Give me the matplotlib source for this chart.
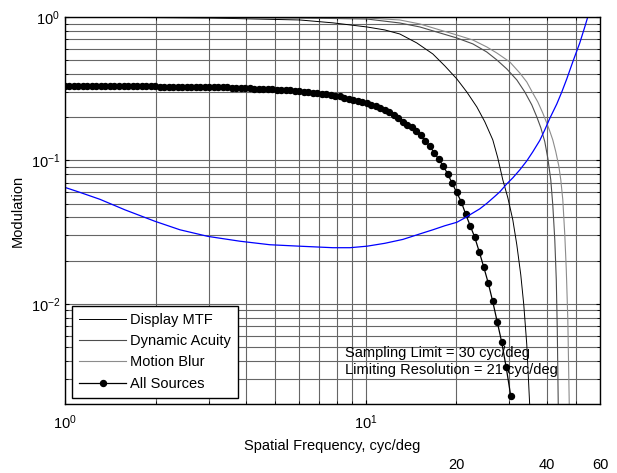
import numpy as np
import matplotlib
matplotlib.use('Agg')
import matplotlib.pyplot as plt
import matplotlib.transforms as mtransforms
from matplotlib.ticker import LogLocator, NullFormatter, LogFormatterMathtext

plt.rcParams['font.family'] = ['Liberation Sans', 'DejaVu Sans']
plt.rcParams['mathtext.fontset'] = 'custom'
plt.rcParams['mathtext.rm'] = 'Liberation Sans'
plt.rcParams['mathtext.it'] = 'Liberation Sans'

# --- data ---
# display MTF
mtf_x = [1.0, 3.03, 6.04, 7.77, 10.08, 11.56, 12.97, 14.77, 16.70, 18.30, 20.06, 21.65,
         23.38, 24.85, 26.42, 27.45, 28.52, 29.64, 30.79, 31.75, 32.73, 33.49, 34.27, 35.07]
mtf_y = [1.0, 0.984, 0.953, 0.91, 0.852, 0.812, 0.761, 0.659, 0.552, 0.456, 0.370, 0.300,
         0.236, 0.186, 0.139, 0.104, 0.0732, 0.0549, 0.0385, 0.0258, 0.0159, 0.00984, 0.00518, 0.0019]

# dynamic acuity
acuity_x = [1.0, 6.04, 10.08, 12.97, 15.12, 17.62, 20.06, 22.68, 25.23, 27.24, 29.41, 31.75,
            33.75, 35.60, 37.00, 38.15, 39.33, 40.24, 41.17, 41.81, 42.46, 42.95, 43.28, 43.61]
acuity_y = [1.0, 0.984, 0.968, 0.908, 0.852, 0.774, 0.714, 0.649, 0.570, 0.502, 0.434, 0.364,
            0.300, 0.244, 0.201, 0.169, 0.135, 0.104, 0.0732, 0.0490, 0.0279, 0.0147, 0.00659, 0.0019]

# motion blur
blur_x = [1.0, 10.08, 12.97, 15.12, 17.62, 20.06, 22.68, 25.23, 27.24, 30.09, 32.48, 34.27,
          35.87, 37.27, 38.73, 39.93, 40.86, 41.81, 42.78, 43.78, 44.45, 45.14, 45.84, 46.37,
          46.91, 47.45]
blur_y = [1.0, 0.984, 0.953, 0.894, 0.812, 0.749, 0.691, 0.618, 0.561, 0.486, 0.407, 0.352,
          0.295, 0.256, 0.214, 0.182, 0.160, 0.139, 0.115, 0.0915, 0.0732, 0.0533, 0.0302, 0.0172,
          0.00776, 0.0019]

# threshold curve (blue)
thresh_x = [1.0, 1.122, 1.307, 1.582, 1.991, 2.411, 2.987, 3.815, 4.799, 6.04, 7.77, 8.85,
            10.08, 11.56, 13.27, 15.12, 16.70, 18.30, 20.06, 21.33, 22.15, 23.91, 25.23, 26.83,
            27.87, 29.41, 30.79, 32.48, 34.27, 35.87, 37.86, 39.33, 40.86, 43.12, 44.80, 46.54,
            48.72, 51.40, 53.41, 54.65]
thresh_y = [0.0648, 0.0598, 0.0535, 0.0452, 0.0376, 0.0328, 0.0295, 0.0273, 0.0258, 0.0252,
            0.0246, 0.0246, 0.0252, 0.0264, 0.0281, 0.0307, 0.0328, 0.0350, 0.0370, 0.0397,
            0.0417, 0.0459, 0.0501, 0.0561, 0.0603, 0.0686, 0.0755, 0.0858, 0.0992, 0.1146,
            0.1378, 0.1632, 0.1962, 0.2475, 0.300, 0.370, 0.486, 0.659, 0.852, 1.0]

# all sources, one value per plotted dot (dots evenly spaced on the log axis)
all_x = np.geomspace(1.0, 30.3, 100)
all_y = ([0.332] * 21 + [0.326] * 14 +
         [0.325, 0.323, 0.322, 0.321, 0.320, 0.318, 0.318, 0.317, 0.316, 0.315,
          0.314, 0.313, 0.312, 0.311, 0.310, 0.308, 0.306, 0.304, 0.301, 0.299,
          0.297, 0.295, 0.292, 0.289, 0.286, 0.283, 0.279, 0.274, 0.269, 0.265,
          0.260, 0.255, 0.251, 0.245, 0.239, 0.233, 0.226, 0.218, 0.208, 0.197,
          0.186, 0.177, 0.170, 0.161, 0.151, 0.137, 0.126, 0.113, 0.102, 0.0916,
          0.0805, 0.0693, 0.0597, 0.0516, 0.0422, 0.0350, 0.0292, 0.0231, 0.0181, 0.0140,
          0.0104, 0.0075, 0.0054, 0.0036, 0.00229])

extra_ticks = [20, 40, 60]

fig = plt.figure(figsize=(6.17, 4.73), dpi=100)
ax = fig.add_axes([0.1053, 0.1459, 0.8671, 0.8182])

ax.plot(mtf_x, mtf_y, color='k', lw=0.7, label='Display MTF')
ax.plot(acuity_x, acuity_y, color='0.3', lw=0.8, label='Dynamic Acuity')
ax.plot(blur_x, blur_y, color='0.55', lw=0.8, label='Motion Blur')
ax.plot(all_x, all_y, color='k', lw=0.9, marker='o', ms=4.3, label='All Sources')
ax.plot(thresh_x, thresh_y, color='#0000ff', lw=0.9)

ax.set_xscale('log')
ax.set_yscale('log')
ax.set_xlim(1, 60)
ax.set_ylim(0.002, 1)

ax.xaxis.set_major_locator(LogLocator(base=10))
ax.yaxis.set_major_locator(LogLocator(base=10))
ax.xaxis.set_minor_locator(LogLocator(base=10, subs=np.arange(2, 10)))
ax.yaxis.set_minor_locator(LogLocator(base=10, subs=np.arange(2, 10)))
ax.xaxis.set_minor_formatter(NullFormatter())
ax.yaxis.set_minor_formatter(NullFormatter())
ax.xaxis.set_major_formatter(LogFormatterMathtext())
ax.yaxis.set_major_formatter(LogFormatterMathtext())

ax.grid(True, which='both', color='0.4', lw=0.8)
ax.set_axisbelow(True)
ax.tick_params(which='both', direction='in', top=True, right=True, labelsize=10.5)
ax.tick_params(which='major', length=3)
ax.tick_params(which='minor', length=2)
ax.tick_params(axis='x', which='major', pad=7)
ax.tick_params(axis='y', which='major', pad=3.5)
for s in ax.spines.values():
    s.set_linewidth(1.0)

ax.set_xlabel('Spatial Frequency, cyc/deg', fontsize=10.5, labelpad=5)
ax.set_ylabel('Modulation', fontsize=10.5, labelpad=4)

ax.text(0.523, 0.132, 'Sampling Limit = 30 cyc/deg', transform=ax.transAxes,
        fontsize=10.5, va='center', ha='left')
ax.text(0.523, 0.088, 'Limiting Resolution = 21 cyc/deg', transform=ax.transAxes,
        fontsize=10.5, va='center', ha='left')

# second row of x labels under the axis title
trans = mtransforms.blended_transform_factory(ax.transData, ax.transAxes)
for t in extra_ticks:
    ax.text(t, -0.1745, str(t), transform=trans, ha='center', va='bottom', fontsize=10.5)

leg = ax.legend(loc='lower left', bbox_to_anchor=(0.013, 0.0155), borderaxespad=0,
                fontsize=10.5, fancybox=False, framealpha=1, edgecolor='k',
                handlelength=3.2, handletextpad=0.3, borderpad=0.5, labelspacing=0.5)
leg.get_frame().set_linewidth(1.0)

plt.savefig('out.png', dpi=100)
plt.close()
